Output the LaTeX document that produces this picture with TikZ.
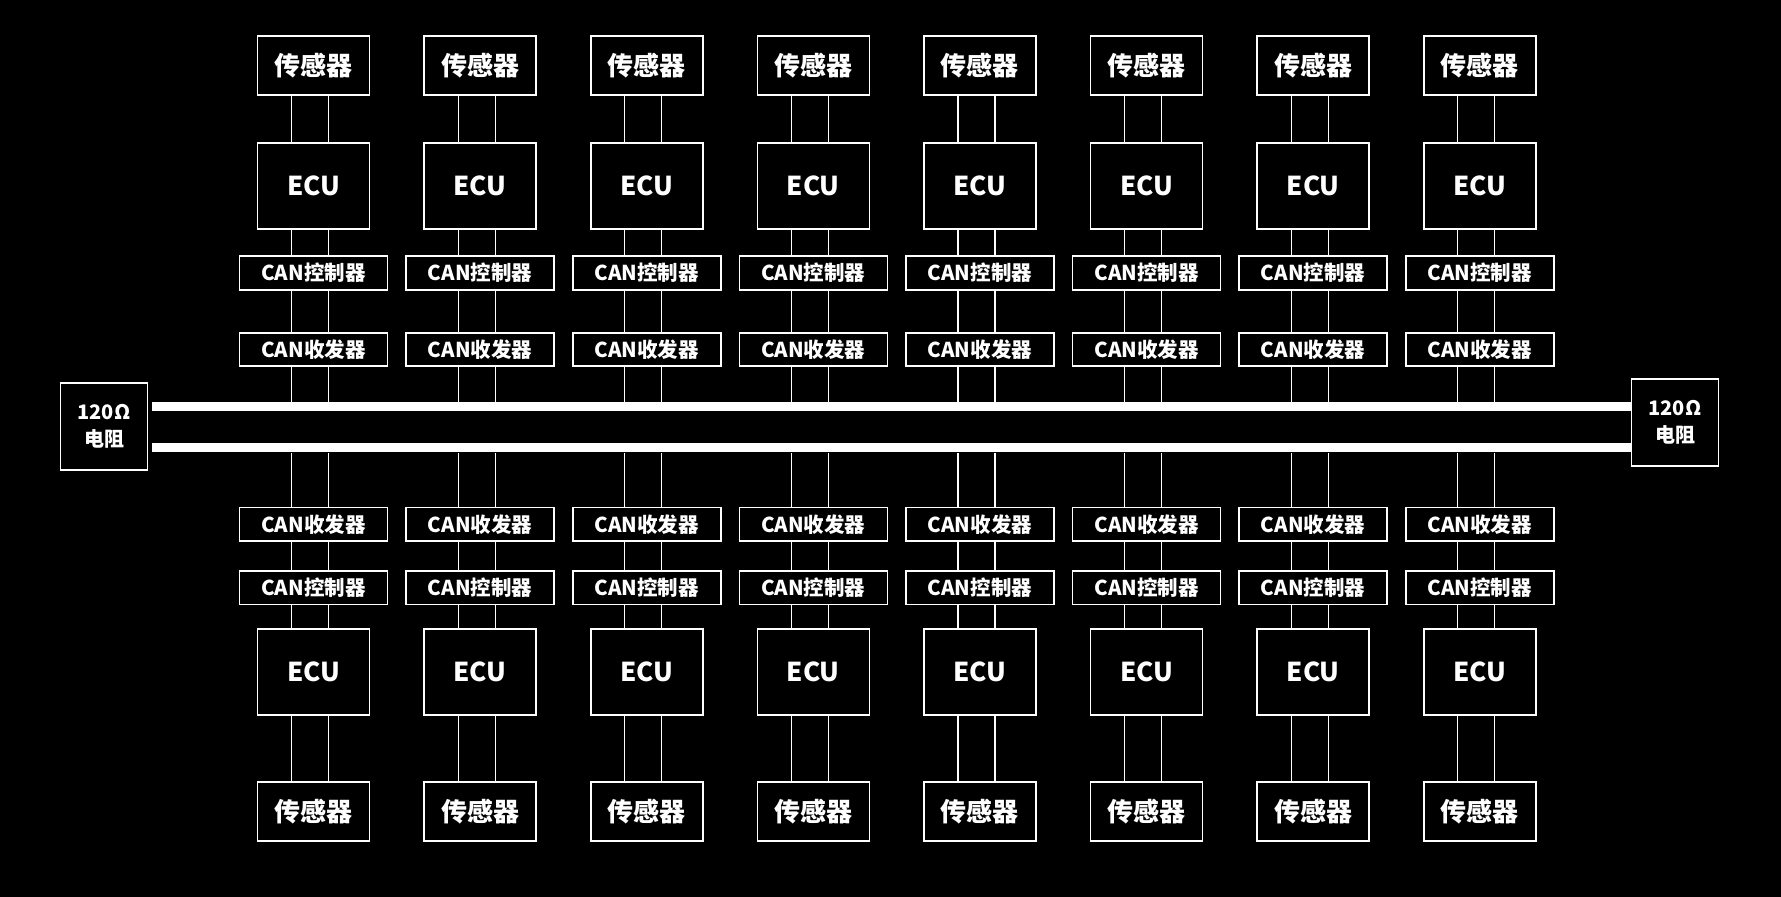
\documentclass[tikz,border=0pt]{standalone}
\usepackage{fontspec}
\setmainfont{Noto Sans CJK SC}
\usetikzlibrary{calc}
\begin{document}
\begin{tikzpicture}[x=1pt,y=-1pt,
  box/.style={draw=white, line width=1.6pt, fill=black, text=white, inner sep=0pt},
  sens/.style={box, minimum width=112pt, minimum height=59pt, font=\bfseries\fontsize{26}{30}\selectfont},
  ecu/.style={box, minimum width=112pt, minimum height=86pt, font=\bfseries\fontsize{26}{30}\selectfont},
  canbox/.style={box, minimum width=148pt, minimum height=33.5pt, font=\bfseries\fontsize{20.5}{24}\selectfont},
  res/.style={box, minimum width=87pt, minimum height=87pt, align=center, font=\bfseries\fontsize{20}{27}\selectfont},
  wire/.style={draw=white, line width=1.2pt},
  bus/.style={fill=white, draw=none, inner sep=0pt, minimum width=1479pt, minimum height=9pt}
]
\fill[black] (0,0) rectangle (1781,897);
\useasboundingbox (0,0) rectangle (1781,897);
\node[bus] (busA) at (891.5,406.7) {};
\node[bus] (busB) at (891.5,447.8) {};
\node[res] (rl) at (104,426.5) {120Ω\\电阻};
\node[res] (rr) at (1675,422.5) {120Ω\\电阻};
\foreach \i in {0,...,7} {
  \pgfmathsetmacro{\cx}{313.5+166.6*\i}
  \node[sens] (st\i) at (\cx,65.6) {传感器};
  \node[ecu] (et\i) at (\cx,186) {ECU};
  \node[canbox] (ct\i) at (\cx,273) {CAN控制器};
  \node[canbox] (tt\i) at (\cx,349.5) {CAN收发器};
  \node[canbox] (tb\i) at (\cx,524.3) {CAN收发器};
  \node[canbox] (cb\i) at (\cx,587.7) {CAN控制器};
  \node[ecu] (eb\i) at (\cx,671.7) {ECU};
  \node[sens] (sb\i) at (\cx,811.5) {传感器};
  \foreach \d in {-22,15} {
    \draw[wire] ([xshift=\d pt]st\i.south) -- ([xshift=\d pt]et\i.north);
    \draw[wire] ([xshift=\d pt]et\i.south) -- ([xshift=\d pt]ct\i.north);
    \draw[wire] ([xshift=\d pt]ct\i.south) -- ([xshift=\d pt]tt\i.north);
    \coordinate (wa) at ([xshift=\d pt]tt\i.south);
    \draw[wire] (wa) -- (wa |- busA.north);
    \coordinate (wb) at ([xshift=\d pt]tb\i.north);
    \draw[wire] (wb) -- (wb |- busB.south);
    \draw[wire] ([xshift=\d pt]tb\i.south) -- ([xshift=\d pt]cb\i.north);
    \draw[wire] ([xshift=\d pt]cb\i.south) -- ([xshift=\d pt]eb\i.north);
    \draw[wire] ([xshift=\d pt]eb\i.south) -- ([xshift=\d pt]sb\i.north);
  }
}
\end{tikzpicture}
\end{document}
